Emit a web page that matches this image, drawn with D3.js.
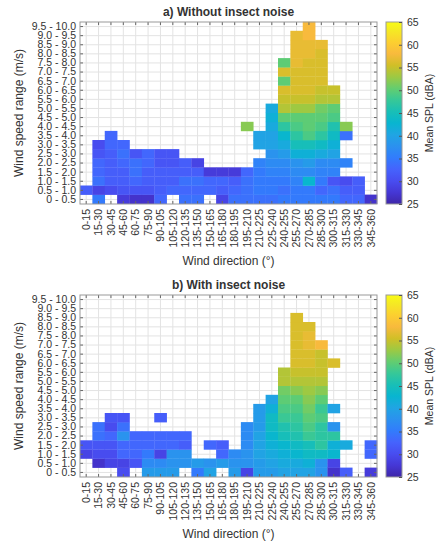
<!DOCTYPE html>
<html>
<head>
<meta charset="utf-8">
<script src="https://cdn.jsdelivr.net/npm/d3@7"></script>
<style>
  body { margin: 0; background: #fff; }
  svg text { font-family: "Liberation Sans", Arial, sans-serif; fill: #333; }
</style>
</head>
<body>
<div id="chart"></div>
<script>
// ---- data -----------------------------------------------------------------

// wind direction bins (x axis)
var directions = ["0-15", "15-30", "30-45", "45-60", "60-75", "75-90", "90-105",
  "105-120", "120-135", "135-150", "150-165", "165-180", "180-195", "195-210",
  "210-225", "225-240", "240-255", "255-270", "270-285", "285-300", "300-315",
  "315-330", "330-345", "345-360"];

// wind speed bins (y axis), lowest first
var speedBins = ["0 - 0.5", "0.5 - 1.0", "1.0 - 1.5", "1.5 - 2.0", "2.0 - 2.5",
  "2.5 - 3.0", "3.0 - 3.5", "3.5 - 4.0", "4.0 - 4.5", "4.5 - 5.0", "5.0 - 5.5",
  "5.5 - 6.0", "6.0 - 6.5", "6.5 - 7.0", "7.0 - 7.5", "7.5 - 8.0", "8.0 - 8.5",
  "8.5 - 9.0", "9.0 - 9.5", "9.5 - 10.0"];

var splRange = [25, 65];
var cbarTicks = [25, 30, 35, 40, 45, 50, 55, 60, 65];
var panelTitles = ["a) Without insect noise", "b) With insect noise"];

// mean SPL (dBA), one list per direction bin, from the lowest speed bin up.
// null = no measurement in that bin
var splWithout = [
  [null, 32],
  [35, 29, 34, 33, 33, 31, 30],
  [null, 30, 32, 32, 32, 32, 33, 33],
  [28, 31, 32, 32, 33, 34, 33],
  [27, 31, 33, 34, 34, 31],
  [27, 31, 32, 32, 33, 33],
  [33, 32, 32, 32, 31, 31],
  [null, 33, 32, 32, 31, 31],
  [34, 33, 34, 32, 32],
  [34, 33, 34, 32, 29],
  [null, 33, 33, 28],
  [29, 32, 33, 28],
  [34, 33, 32, 28],
  [34, 34, 34, 33, null, null, null, null, 52],
  [34, 35, 35, 35, 36, null, 40, 40],
  [34, 35, 35, 36, 37, 38, 40, 40, 41, 42, 41],
  [35, 34, 35, 36, 37, 39, 41, 43, 47, 50, 54, 55, 56, 50, 56, 50],
  [35, 35, 36, 37, 38, 42, 45, 47, 49, 50, 53, 55, 56, 56, 56, 57, 57, 57, 57],
  [35, 35, 43, 37, 39, 42, 45, 49, 50, 50, 53, 55, 56, 56, 56, 56, 57, 57, 58, 58],
  [35, 33, 35, 36, 37, 41, 44, 47, 49, 50, 51, 54, 55, 56, 56, 56, 56, 57],
  [35, 34, 31, 36, 37, 40, 42, 44, 46, 49, 50, 54, 55],
  [33, 32, 30, null, 36, null, null, 34, 52],
  [33, 32, 32],
  [27]
];

var splWith = [
  [null, null, 29, 31],
  [null, 27, 30, 31, 34, 34],
  [null, 29, 30, 31, 33, 30, 31],
  [30, 29, 33, 33, 38, 34, 31],
  [null, 31, 33, 33, 33],
  [39, 37, 35, 33, 33],
  [39, 37, 29, 33, 33, null, 32],
  [39, 38, 38, 33, 33],
  [null, 38, 38, 32, 33],
  [35, 39],
  [40, 38, null, 33],
  [null, 39, 33, 32],
  [39, 38, 37],
  [29, 38, 38, 37, 37, 37],
  [39, 39, 40, 40, 40, 39, 39, 39],
  [39, 40, 41, 42, 43, 44, 44, 42, 40],
  [40, 41, 42, 43, 45, 46, 48, 49, 50, 51, 54, 54],
  [40, 41, 43, 44, 46, 47, 48, 49, 50, 52, 54, 55, 56, 56, 56, 56, 56, 56],
  [40, 42, 44, 45, 48, 49, 50, 51, 52, 53, 54, 55, 56, 56, 57, 57, 56],
  [38, 38, 44, 47, 47, 47, 49, 48, 50, 52, 54, 55, 55, 55, 58],
  [27, 29, 43, 42, 47, 38, null, 40, null, null, null, null, 56],
  [32, null, null, 41],
  [],
  [28, null, 33, 33]
];

// parula colormap, sampled from the 64-entry table (index, r, g, b)
var parulaStops = [
  [1, 0.2422, 0.1504, 0.6603], [5, 0.2706, 0.2147, 0.8364],
  [9, 0.2813, 0.3006, 0.9414], [13, 0.2699, 0.3892, 0.9906],
  [17, 0.1963, 0.4847, 0.9892], [21, 0.1687, 0.5703, 0.9359],
  [25, 0.1248, 0.6459, 0.8883], [29, 0.0297, 0.7082, 0.8163],
  [33, 0.0964, 0.7500, 0.7120], [37, 0.2161, 0.7843, 0.5923],
  [41, 0.3909, 0.8029, 0.4354], [45, 0.6174, 0.7876, 0.2612],
  [49, 0.8203, 0.7498, 0.1535], [53, 0.9728, 0.7298, 0.2394],
  [57, 0.9892, 0.8136, 0.1885], [61, 0.9597, 0.9135, 0.1423],
  [64, 0.9769, 0.9839, 0.0805]
];

// ---- layout ---------------------------------------------------------------

var W = 439, H = 542;
var plotLeft = 80, plotRight = 377;
var cbarLeft = 386, cbarWidth = 16;
var panels = [
  {top: 22, bottom: 204, title: panelTitles[0], data: splWithout},
  {top: 295, bottom: 477, title: panelTitles[1], data: splWith}
];

var svg = d3.select("#chart").append("svg")
  .attr("width", W)
  .attr("height", H);

var parula = d3.scaleLinear()
  .domain(parulaStops.map(function (s) {
    return splRange[0] + (splRange[1] - splRange[0]) * (s[0] - 1) / 63;
  }))
  .range(parulaStops.map(function (s) {
    return d3.rgb(s[1] * 255, s[2] * 255, s[3] * 255).formatHex();
  }))
  .clamp(true);

// vertical gradient used by both colorbars
var grad = svg.append("defs").append("linearGradient")
  .attr("id", "parulaGrad")
  .attr("x1", 0).attr("y1", 1).attr("x2", 0).attr("y2", 0);
grad.selectAll("stop")
  .data(parulaStops)
  .enter().append("stop")
  .attr("offset", function (s) { return (s[0] - 1) / 63; })
  .attr("stop-color", function (s) { return d3.rgb(s[1] * 255, s[2] * 255, s[3] * 255).formatHex(); });

panels.forEach(drawPanel);

function drawPanel(p) {
  var g = svg.append("g");
  var midX = (plotLeft + plotRight) / 2;
  var midY = (p.top + p.bottom) / 2;

  var x = d3.scaleBand().domain(directions).range([plotLeft, plotRight]);
  var y = d3.scaleBand().domain(speedBins).range([p.bottom, p.top]);

  // grid (under the cells, at the category centres)
  g.append("g").selectAll("line")
    .data(directions)
    .enter().append("line")
    .attr("x1", function (d) { return x(d) + x.bandwidth() / 2; })
    .attr("x2", function (d) { return x(d) + x.bandwidth() / 2; })
    .attr("y1", p.top).attr("y2", p.bottom)
    .attr("stroke", "#e3e3e3");
  g.append("g").selectAll("line")
    .data(speedBins)
    .enter().append("line")
    .attr("y1", function (d) { return y(d) + y.bandwidth() / 2; })
    .attr("y2", function (d) { return y(d) + y.bandwidth() / 2; })
    .attr("x1", plotLeft).attr("x2", plotRight)
    .attr("stroke", "#e3e3e3");

  // flatten the columns into cells
  var cells = [];
  p.data.forEach(function (col, i) {
    col.forEach(function (v, j) {
      if (v !== null) cells.push({dir: directions[i], speed: speedBins[j], value: v});
    });
  });

  g.append("g").selectAll("rect")
    .data(cells)
    .enter().append("rect")
    .attr("x", function (d) { return x(d.dir); })
    .attr("y", function (d) { return y(d.speed) - 0.3; })
    .attr("width", x.bandwidth() + 0.3)
    .attr("height", y.bandwidth() + 0.3)
    .attr("fill", function (d) { return parula(d.value); });

  // axes: ticks pointing inwards on all four sides
  var axB = g.append("g").attr("transform", "translate(0," + p.bottom + ")")
    .call(d3.axisBottom(x).tickSizeInner(-3).tickSizeOuter(0).tickPadding(4));
  axB.selectAll("text")
    .attr("transform", "rotate(-90)")
    .attr("x", -5).attr("y", 0).attr("dy", "0.35em")
    .style("text-anchor", "end");
  g.append("g").attr("transform", "translate(0," + p.top + ")")
    .call(d3.axisTop(x).tickSizeInner(-3).tickSizeOuter(0).tickFormat(""));
  g.append("g").attr("transform", "translate(" + plotLeft + ",0)")
    .call(d3.axisLeft(y).tickSizeInner(-3).tickSizeOuter(0).tickPadding(4));
  g.append("g").attr("transform", "translate(" + plotRight + ",0)")
    .call(d3.axisRight(y).tickSizeInner(-3).tickSizeOuter(0).tickFormat(""));

  g.selectAll(".tick text").style("font-size", "10.5px").attr("fill", "#333");
  g.selectAll(".tick line").attr("stroke", "#666");
  g.selectAll(".domain").remove();

  g.append("rect")
    .attr("x", plotLeft).attr("y", p.top)
    .attr("width", plotRight - plotLeft).attr("height", p.bottom - p.top)
    .attr("fill", "none").attr("stroke", "#999");

  // titles
  g.append("text")
    .attr("x", midX).attr("y", p.top - 6)
    .attr("text-anchor", "middle")
    .style("font-size", "12px").style("font-weight", "bold")
    .attr("fill", "#111")
    .text(p.title);
  g.append("text")
    .attr("x", midX).attr("y", p.bottom + 61)
    .attr("text-anchor", "middle")
    .style("font-size", "12px")
    .text("Wind direction (°)");
  g.append("text")
    .attr("transform", "translate(23," + midY + ") rotate(-90)")
    .attr("text-anchor", "middle")
    .style("font-size", "12px")
    .text("Wind speed range (m/s)");

  // colorbar
  var c = d3.scaleLinear().domain(splRange).range([p.bottom, p.top]);
  g.append("rect")
    .attr("x", cbarLeft).attr("y", p.top)
    .attr("width", cbarWidth).attr("height", p.bottom - p.top)
    .attr("fill", "url(#parulaGrad)")
    .attr("stroke", "#999");
  var axC = g.append("g").attr("transform", "translate(" + (cbarLeft + cbarWidth) + ",0)")
    .call(d3.axisRight(c).tickValues(cbarTicks).tickSizeInner(-3).tickSizeOuter(0).tickPadding(5));
  axC.select(".domain").remove();
  axC.selectAll("text").style("font-size", "10.5px").attr("fill", "#333");
  axC.selectAll("line").attr("stroke", "#555");
  g.append("text")
    .attr("transform", "translate(433," + midY + ") rotate(-90)")
    .attr("text-anchor", "middle")
    .style("font-size", "10.5px")
    .text("Mean SPL (dBA)");
}
</script>
</body>
</html>
